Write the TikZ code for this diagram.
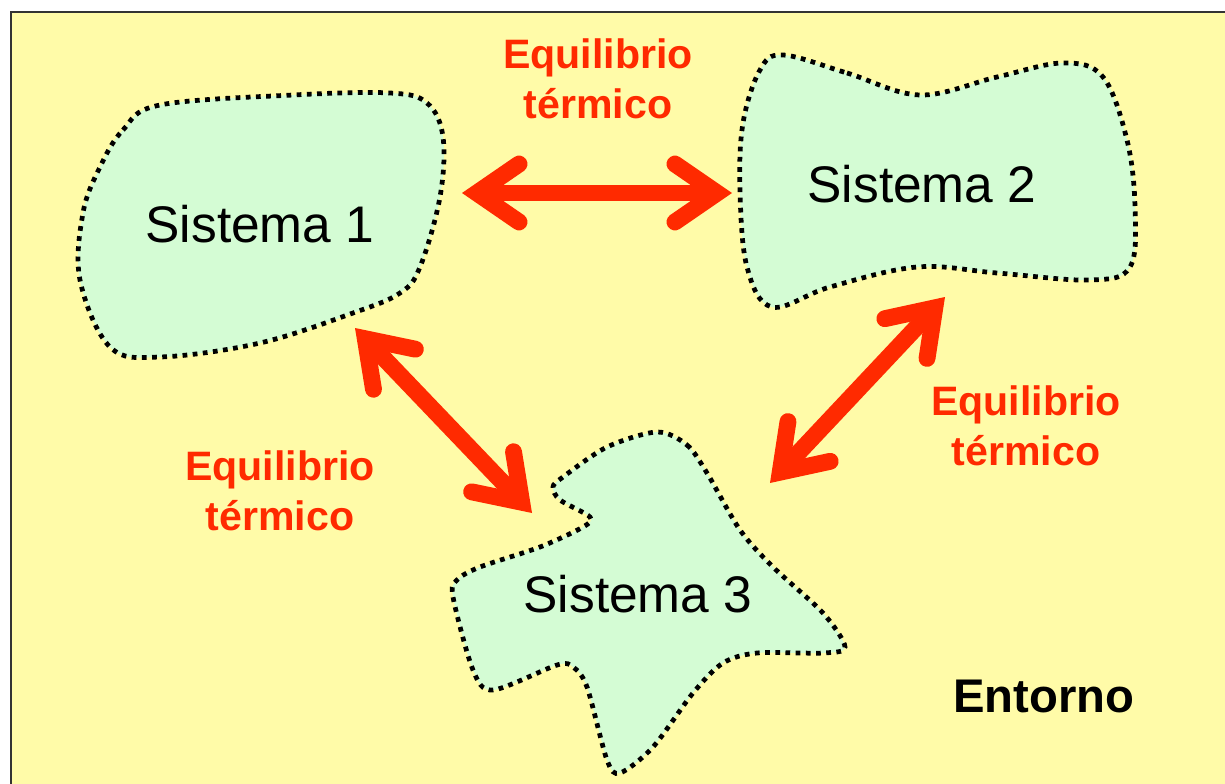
\documentclass[tikz,border=0pt]{standalone}
\usepackage{fontspec}
\setmainfont{Liberation Sans}
\usetikzlibrary{arrows.meta}

\definecolor{fondo}{RGB}{255,251,168}
\definecolor{verde}{RGB}{212,252,212}
\definecolor{rojo}{RGB}{255,42,0}

\tikzset{
  sistema/.style={draw=black, fill=verde, line width=2.7pt, dash pattern=on 2.7pt off 3.1pt},
  nombre/.style={inner sep=0pt, anchor=base, font=\fontsize{29.3}{35}\selectfont},
  etiqueta/.style={inner sep=0pt, align=center, text=rojo, font=\fontsize{23.4}{28.4}\selectfont\bfseries},
  flecha/.style={draw=rojo, line width=9.6pt,
    {Straight Barb[length=24pt, width=33pt, line cap=round, line join=miter]}-{Straight Barb[length=24pt, width=33pt, line cap=round, line join=miter]}}
}

\begin{document}
\begin{tikzpicture}[x=0.02cm, y=-0.02cm]
    % marco y fondo
    \clip (0,0) rectangle (1225,784);
    \draw[draw=black!80, line width=1.2pt, fill=fondo] (11,12) rectangle (1260,820);
    % Sistema 1
    \draw[sistema] plot[smooth cycle, tension=0.6] coordinates {(100,167) (123,130) (160,105) (293,95) (390,93) (427,103) (443,137) (440,197) (420,267) (400,293) (353,313) (260,343) (160,357) (110,347) (80,280) (83,213)};
    % Sistema 2
    \draw[sistema] plot[smooth cycle, tension=0.6] coordinates {(783,55) (847,73) (920,95) (997,77) (1063,63) (1103,77) (1127,140) (1135,207) (1130,267) (1090,280) (997,273) (917,267) (830,287) (772,307) (747,267) (740,190) (743,123) (760,70)};
    % Sistema 3
    \draw[sistema] plot[smooth cycle, tension=0.5] coordinates {(657,432) (687,445) (707,473) (740,530) (773,567) (823,613) (845,647) (823,653) (757,653) (723,663) (693,693) (653,747) (620,773) (607,760) (587,687) (573,667) (557,665) (493,690) (473,670) (453,597) (457,580) (480,567) (540,547) (583,527) (590,517) (560,500) (553,487) (563,477) (607,447)};
    % nombres de los sistemas
    \node[nombre] (s1) at (260,242) {Sistema 1};
    \node[nombre] (s2) at (922,203) {Sistema 2};
    \node[nombre] (s3) at (638,612) {Sistema 3};
    % extremos de las flechas
    \coordinate (f12a) at (462,193);
    \coordinate (f12b) at (732,193);
    \coordinate (f13a) at (355,328);
    \coordinate (f13b) at (532,513);
    \coordinate (f23a) at (945,297);
    \coordinate (f23b) at (770,483);
    % flechas de equilibrio
    \draw[flecha] (f12a) -- (f12b);
    \draw[flecha] (f13a) -- (f13b);
    \draw[flecha] (f23a) -- (f23b);
    % etiquetas
    \node[etiqueta] (e12) at (598,79) {Equilibrio\\térmico};
    \node[etiqueta] (e13) at (280,491) {Equilibrio\\térmico};
    \node[etiqueta] (e23) at (1026,426) {Equilibrio\\térmico};
    % entorno
    \node[inner sep=0pt, anchor=base, font=\fontsize{26.9}{32}\selectfont\bfseries] (ent) at (1044,712) {Entorno};
\end{tikzpicture}
\end{document}
